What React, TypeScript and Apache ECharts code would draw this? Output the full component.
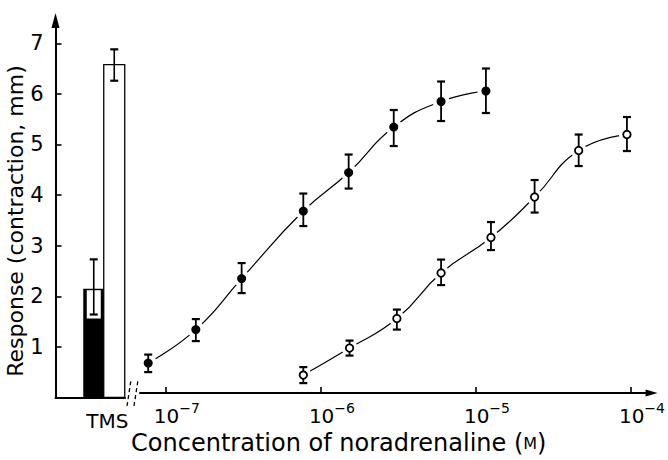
import React, { useEffect, useRef } from 'react';
import * as echarts from 'echarts';

// ---- data ----
const yTickValues = [1, 2, 3, 4, 5, 6, 7];
const xTickValues = [1e-7, 1e-6, 1e-5, 1e-4];

const tmsCategories = ['TMS'];
// index 0: filled bar, index 1: open bar
const tmsMean = [2.15, 6.58];
const tmsLow = [1.64, 6.26];
const tmsHigh = [2.73, 6.88];

const filledConc = [7.69e-8, 1.56e-7, 3.08e-7, 7.7e-7, 1.51e-6, 2.95e-6, 5.96e-6, 1.16e-5];
const filledMean = [0.6, 1.27, 2.29, 3.64, 4.41, 5.32, 5.83, 6.04];
const filledLow = [0.42, 1.04, 2.0, 3.34, 4.09, 4.94, 5.44, 5.6];
const filledHigh = [0.77, 1.48, 2.6, 3.99, 4.77, 5.66, 6.23, 6.49];

const openConc = [7.7e-7, 1.53e-6, 3.09e-6, 5.96e-6, 1.25e-5, 2.39e-5, 4.6e-5, 9.42e-5];
const openMean = [0.36, 0.9, 1.49, 2.4, 3.11, 3.92, 4.85, 5.17];
const openLow = [0.2, 0.75, 1.27, 2.16, 2.86, 3.61, 4.54, 4.84];
const openHigh = [0.52, 1.05, 1.67, 2.67, 3.42, 4.26, 5.17, 5.52];

const Y_MAX = 7.45;
const X_MIN = Math.pow(10, -7.167);
const X_MAX = Math.pow(10, -3.867);

const FONT = 'DejaVu Sans';

function errorBarItem(cx: number, yLo: number, yHi: number, cap: number, lw: number) {
  return [
    { type: 'line', shape: { x1: cx, y1: yLo, x2: cx, y2: yHi }, style: { stroke: '#000', lineWidth: lw } },
    { type: 'line', shape: { x1: cx - cap, y1: yHi, x2: cx + cap, y2: yHi }, style: { stroke: '#000', lineWidth: 2.2 } },
    { type: 'line', shape: { x1: cx - cap, y1: yLo, x2: cx + cap, y2: yLo }, style: { stroke: '#000', lineWidth: 2.2 } },
  ];
}

export default function App() {
  const ref = useRef<HTMLDivElement>(null);

  useEffect(() => {
    const chart = echarts.init(ref.current as HTMLDivElement, null, { renderer: 'svg' });

    const barData = tmsMean.map((m, i) => [0, m, tmsLow[i], tmsHigh[i]]);
    const filledPts = filledConc.map((c, i) => [c, filledMean[i]]);
    const openPts = openConc.map((c, i) => [c, openMean[i]]);
    const filledErr = filledConc.map((c, i) => [c, filledLow[i], filledHigh[i]]);
    const openErr = openConc.map((c, i) => [c, openLow[i], openHigh[i]]);

    const errRender = (params: any, api: any) => {
      const lo = api.coord([api.value(0), api.value(1)]);
      const hi = api.coord([api.value(0), api.value(2)]);
      return { type: 'group', children: errorBarItem(lo[0], lo[1], hi[1], 4, 1.8) };
    };

    const option: any = {
      animation: false,
      backgroundColor: '#fff',
      textStyle: { fontFamily: FONT, color: '#000' },
      grid: [
        { left: 55.5, top: 20.5, width: 69.5, bottom: 62.5 },
        { left: 140, top: 20.5, width: 520, bottom: 62.5 },
      ],
      xAxis: [
        {
          type: 'category',
          gridIndex: 0,
          data: tmsCategories,
          boundaryGap: true,
          axisLine: { lineStyle: { color: '#000', width: 2 } },
          axisTick: { show: false },
          axisLabel: {
            color: '#000',
            fontFamily: FONT,
            fontSize: 20,
            lineHeight: 30,
            margin: 8,
            padding: [0, 0, 0, 34],
          },
          splitLine: { show: false },
        },
        {
          type: 'log',
          logBase: 10,
          gridIndex: 1,
          min: X_MIN,
          max: X_MAX,
          axisLine: {
            symbol: ['none', 'triangle'],
            symbolSize: [7, 12],
            lineStyle: { color: '#000', width: 2 },
          },
          axisTick: {
            inside: true,
            length: 6,
            customValues: xTickValues,
            lineStyle: { color: '#000', width: 1.6 },
          },
          axisLabel: {
            customValues: xTickValues,
            margin: 8,
            padding: [0, 0, 0, 22],
            formatter: (v: number) => {
              const e = Math.round(Math.log10(v));
              return '{b|10}{s|\u2212' + Math.abs(e) + '}';
            },
            rich: {
              b: { fontSize: 20, fontFamily: FONT, color: '#000', lineHeight: 30 },
              s: { fontSize: 14, fontFamily: FONT, color: '#000', lineHeight: 14, verticalAlign: 'top' },
            },
          },
          splitLine: { show: false },
          minorTick: { show: false },
          name: 'Concentration of noradrenaline ({m|M})',
          nameLocation: 'middle',
          nameGap: 37,
          nameTextStyle: {
            fontFamily: FONT,
            fontSize: 24,
            color: '#000',
            padding: [0, 114, 0, 0],
            rich: { m: { fontSize: 16, fontFamily: FONT, color: '#000' } },
          },
        },
      ],
      yAxis: [
        {
          type: 'value',
          gridIndex: 0,
          min: 0,
          max: Y_MAX,
          axisLine: {
            show: true,
            symbol: ['none', 'triangle'],
            symbolSize: [8, 15],
            lineStyle: { color: '#000', width: 2 },
          },
          axisTick: {
            show: true,
            inside: true,
            length: 6,
            customValues: yTickValues,
            lineStyle: { color: '#000', width: 1.6 },
          },
          axisLabel: {
            customValues: yTickValues,
            color: '#000',
            fontFamily: FONT,
            fontSize: 21,
            margin: 12,
          },
          splitLine: { show: false },
          name: 'Response (contraction, mm)',
          nameLocation: 'middle',
          nameGap: 27,
          nameTextStyle: {
            fontFamily: FONT,
            fontSize: 22,
            color: '#000',
            padding: [0, 24, 0, 0],
          },
        },
        {
          type: 'value',
          gridIndex: 1,
          min: 0,
          max: Y_MAX,
          show: false,
          splitLine: { show: false },
        },
      ],
      graphic: [
        {
          type: 'line',
          shape: { x1: 127, y1: 406, x2: 131, y2: 380 },
          style: { stroke: '#000', lineWidth: 1.3, lineDash: [4, 3] },
        },
        {
          type: 'line',
          shape: { x1: 134, y1: 406, x2: 138, y2: 380 },
          style: { stroke: '#000', lineWidth: 1.3, lineDash: [4, 3] },
        },
      ],
      series: [
        {
          type: 'custom',
          name: 'TMS',
          xAxisIndex: 0,
          yAxisIndex: 0,
          data: barData,
          z: 3,
          renderItem: (params: any, api: any) => {
            const i = params.dataIndex;
            const top = api.coord([api.value(0), api.value(1)]);
            const base = api.coord([api.value(0), 0]);
            const lo = api.coord([api.value(0), api.value(2)]);
            const hi = api.coord([api.value(0), api.value(3)]);
            const bw = 21;
            const x0 = i === 0 ? top[0] - 7 : top[0] + 13.5;
            const cx = x0 + bw / 2;
            const children: any[] = [];
            if (i === 0) {
              children.push({
                type: 'rect',
                shape: { x: x0, y: top[1], width: bw, height: base[1] - top[1] },
                style: { fill: '#000' },
              });
              children.push({
                type: 'rect',
                shape: { x: x0 + 3.5, y: top[1] + 1.5, width: bw - 7, height: lo[1] + 4 - top[1] - 1.5 },
                style: { fill: '#fff' },
              });
            } else {
              children.push({
                type: 'rect',
                shape: { x: x0, y: top[1], width: bw, height: base[1] - top[1] },
                style: { fill: '#fff', stroke: '#000', lineWidth: 1.3 },
              });
            }
            children.push(...errorBarItem(cx, lo[1], hi[1], 4, 1.6));
            return { type: 'group', children };
          },
        },
        {
          type: 'line',
          name: 'filled curve',
          xAxisIndex: 1,
          yAxisIndex: 1,
          data: filledPts,
          smooth: 0.5,
          showSymbol: false,
          lineStyle: { color: '#000', width: 1.2 },
          z: 1,
        },
        {
          type: 'line',
          name: 'open curve',
          xAxisIndex: 1,
          yAxisIndex: 1,
          data: openPts,
          smooth: 0.5,
          showSymbol: false,
          lineStyle: { color: '#000', width: 1.2 },
          z: 1,
        },
        {
          type: 'scatter',
          name: 'filled halo',
          xAxisIndex: 1,
          yAxisIndex: 1,
          data: filledPts,
          symbolSize: 17,
          itemStyle: { color: '#fff', opacity: 1 },
          silent: true,
          z: 2,
        },
        {
          type: 'scatter',
          name: 'open halo',
          xAxisIndex: 1,
          yAxisIndex: 1,
          data: openPts,
          symbolSize: 16,
          itemStyle: { color: '#fff', opacity: 1 },
          silent: true,
          z: 2,
        },
        {
          type: 'custom',
          name: 'filled error',
          xAxisIndex: 1,
          yAxisIndex: 1,
          data: filledErr,
          renderItem: errRender,
          z: 3,
        },
        {
          type: 'custom',
          name: 'open error',
          xAxisIndex: 1,
          yAxisIndex: 1,
          data: openErr,
          renderItem: errRender,
          z: 3,
        },
        {
          type: 'scatter',
          name: 'filled',
          xAxisIndex: 1,
          yAxisIndex: 1,
          data: filledPts,
          symbolSize: 9,
          itemStyle: { color: '#000', opacity: 1 },
          z: 4,
        },
        {
          type: 'scatter',
          name: 'open',
          xAxisIndex: 1,
          yAxisIndex: 1,
          data: openPts,
          symbolSize: 7.5,
          itemStyle: { color: '#fff', borderColor: '#000', borderWidth: 1.8, opacity: 1 },
          z: 4,
        },
      ],
    };

    chart.setOption(option);
    return () => chart.dispose();
  }, []);

  return (
    <div
      ref={ref}
      style={{ position: 'fixed', left: 0, top: 0, width: 668, height: 460, background: '#fff' }}
    />
  );
}
